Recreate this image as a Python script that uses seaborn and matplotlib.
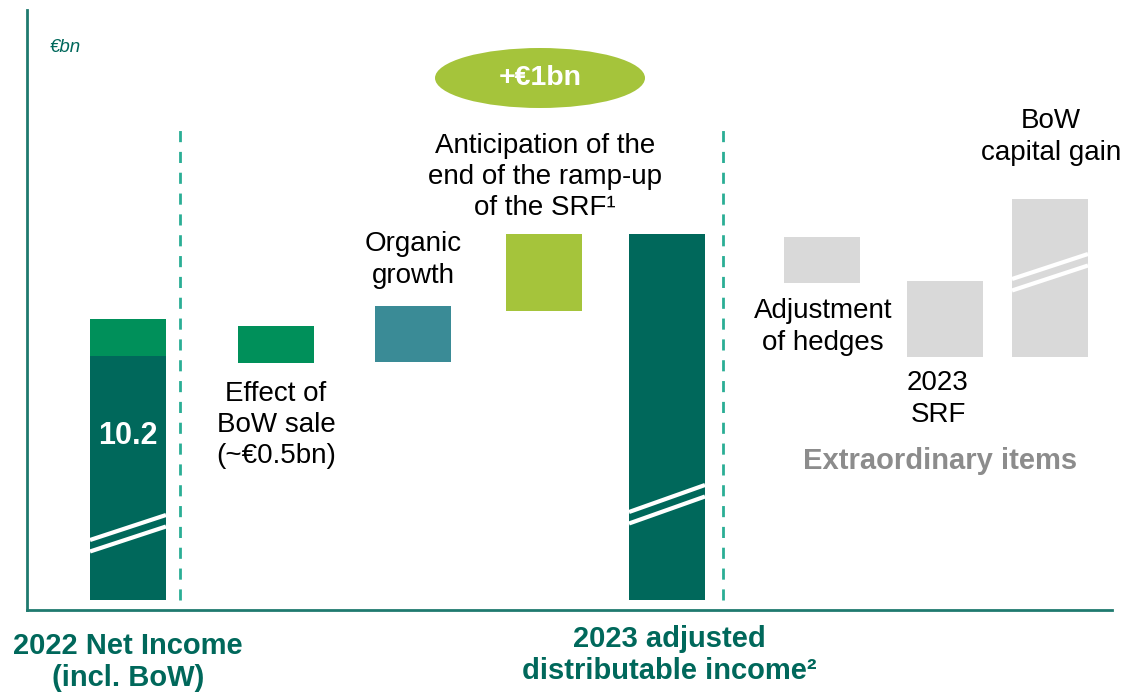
"""
Waterfall: 2022 net income to 2023 adjusted distributable income.
"""
import matplotlib
matplotlib.use('Agg')
import matplotlib.pyplot as plt
from matplotlib.patches import Ellipse
import seaborn as sns
import numpy as np

# Data (display units, broken axis so only relative heights matter)
categories = ["2022 NI", "Effect of BoW sale", "Organic growth", "Anticipation SRF",
              "2023 adjusted", "Adjustment of hedges", "2023 SRF", "BoW capital gain"]
bar_bottoms = [0.0, 23.7, 23.8, 28.9, 0.0, 31.7, 24.3, 24.3]
bar_heights = [24.4, 3.7, 5.6, 7.7, 36.6, 4.6, 7.6, 15.8]
bow_top_bottom = 24.4
bow_top_height = 3.7
net_income_2022 = "10.2"
total_uplift = "+€1bn"

# Layout
x_pos = [1.01, 2.49, 3.86, 5.17, 6.40, 7.95, 9.18, 10.23]
bar_w = 0.76

DARK = "#00685B"
GREEN = "#00905A"
TEAL = "#3A8B96"
LIME = "#A5C43B"
GREY = "#D9D9D9"
bar_colors = [DARK, GREEN, TEAL, LIME, DARK, GREY, GREY, GREY]

sns.set_style("white")
plt.rcParams['font.family'] = ['Liberation Sans', 'DejaVu Sans']

fig = plt.figure(figsize=(11.23, 6.94), dpi=100)
ax = fig.add_axes([27 / 1123, 84 / 694, 1085 / 1123, 600 / 694])

min_gap = np.min(np.diff(x_pos))
sns.barplot(x=x_pos, y=bar_heights, bottom=bar_bottoms, native_scale=True,
            width=bar_w / min_gap, color=DARK, errorbar=None, ax=ax,
            linewidth=0, saturation=1)
for patch, c in zip(ax.patches, bar_colors):
    patch.set_facecolor(c)
    patch.set_edgecolor(c)

# BoW top slice on the 2022 bar
ax.bar(x_pos[0], bow_top_height, bottom=bow_top_bottom, width=bar_w,
       color=GREEN, linewidth=0)

ax.set_xlim(0, 10.85)
ax.set_ylim(-1, 59)
ax.set_xticks([])
ax.set_yticks([])
ax.set_xlabel("")
ax.set_ylabel("")
for s in ["top", "right"]:
    ax.spines[s].set_visible(False)
for s in ["left", "bottom"]:
    ax.spines[s].set_color("#1F7A6F")
    ax.spines[s].set_linewidth(2)

# Axis break marks (double white diagonals)
breaks = [(0, 6.0, 8.5), (4, 8.8, 11.5), (7, 32.1, 34.6)]
for i, y_left, y_right in breaks:
    x0 = x_pos[i] - bar_w / 2
    x1 = x_pos[i] + bar_w / 2
    for off in (0.0, -1.15):
        ax.plot([x0, x1], [y_left + off, y_right + off], color="white",
                lw=3, solid_capstyle="butt")

# Dashed separators
for xd in [1.53, 6.96]:
    ax.plot([xd, xd], [0, 47], color="#2AAE95", lw=2, dashes=(4, 3.5))

# Uplift bubble
ax.add_patch(Ellipse((5.13, 52.2), 2.1, 6.0, color=LIME, lw=0))
ax.text(5.13, 52.2, total_uplift, ha="center", va="center", color="white",
        fontsize=20.5, fontweight="bold")

ax.text(0.23, 55.3, "€bn", ha="left", va="center", color=DARK,
        fontsize=13.5, style="italic")

ax.text(x_pos[0], 16.4, net_income_2022, ha="center", va="center", color="white",
        fontsize=22, fontweight="bold")

labels = [
    (2.49, 17.5, "Effect of\nBoW sale\n(~€0.5bn)"),
    (3.86, 34.0, "Organic\ngrowth"),
    (5.18, 42.3, "Anticipation of the\nend of the ramp-up\nof the SRF¹"),
    (7.96, 27.3, "Adjustment\nof hedges"),
    (9.11, 20.1, "2023\nSRF"),
    (10.24, 46.3, "BoW\ncapital gain"),
]
for lx, ly, txt in labels:
    ax.text(lx, ly, txt, ha="center", va="center", color="black",
            fontsize=20, linespacing=1.27)

ax.text(9.13, 13.9, "Extraordinary items", ha="center", va="center",
        color="#8C8C8C", fontsize=21, fontweight="bold")

ax.text(1.01, -6.2, "2022 Net Income\n(incl. BoW)", ha="center", va="center",
        color=DARK, fontsize=21, fontweight="bold", linespacing=1.22,
        clip_on=False)
ax.text(6.42, -5.5, "2023 adjusted\ndistributable income²", ha="center",
        va="center", color=DARK, fontsize=21, fontweight="bold",
        linespacing=1.22, clip_on=False)

fig.savefig("out.png", dpi=100)
